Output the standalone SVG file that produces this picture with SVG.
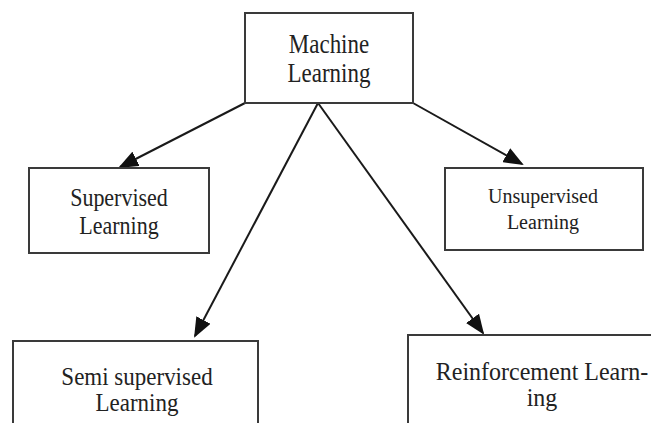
<svg xmlns="http://www.w3.org/2000/svg" width="651" height="423" viewBox="0 0 651 423">
<style>
.box{fill:#fff;stroke:#3a3a3a;stroke-width:2}
.t{font-family:"Liberation Serif","Times New Roman",serif;fill:#222;text-anchor:middle}
.c{stroke:#1a1a1a;stroke-width:2;fill:none;marker-end:url(#ah)}
</style>
<defs>
<marker id="ah" viewBox="0 0 20 16" refX="18" refY="8" markerWidth="20" markerHeight="16" markerUnits="userSpaceOnUse" orient="auto">
<path d="M0,0 L20,8 L0,16 Z" fill="#111"/>
</marker>
</defs>
<rect width="651" height="423" fill="#fff"/>
<g id="connectors">
<line class="c" x1="245" y1="103" x2="120" y2="167"/>
<line class="c" x1="413" y1="103" x2="522" y2="164"/>
<line class="c" x1="318" y1="103" x2="195" y2="336"/>
<line class="c" x1="318" y1="103" x2="483" y2="333"/>
</g>
<g id="machine-learning">
<rect class="box" x="245" y="13" width="168" height="90"/>
<g transform="translate(329,53) scale(1,1.15)"><text class="t" font-size="23">Machine</text></g>
<g transform="translate(329,82) scale(1,1.15)"><text class="t" font-size="23">Learning</text></g>
</g>
<g id="supervised">
<rect class="box" x="29" y="168" width="180" height="85"/>
<g transform="translate(119,206) scale(1,1.1)"><text class="t" font-size="22">Supervised</text></g>
<g transform="translate(119,234) scale(1,1.1)"><text class="t" font-size="22">Learning</text></g>
</g>
<g id="unsupervised">
<rect class="box" x="445" y="168" width="198" height="82"/>
<text class="t" font-size="20" x="543" y="203">Unsupervised</text>
<text class="t" font-size="20" x="543" y="229">Learning</text>
</g>
<g id="semi-supervised">
<rect class="box" x="13" y="341" width="245" height="100"/>
<g transform="translate(137,385) scale(1,1.1)"><text class="t" font-size="23">Semi supervised</text></g>
<g transform="translate(137,411) scale(1,1.1)"><text class="t" font-size="23">Learning</text></g>
</g>
<g id="reinforcement">
<rect class="box" x="408" y="335" width="260" height="100"/>
<g transform="translate(542,380) scale(1,1.05)"><text class="t" font-size="24">Reinforcement Learn-</text></g>
<g transform="translate(542,406) scale(1,1.05)"><text class="t" font-size="24">ing</text></g>
</g>
</svg>
